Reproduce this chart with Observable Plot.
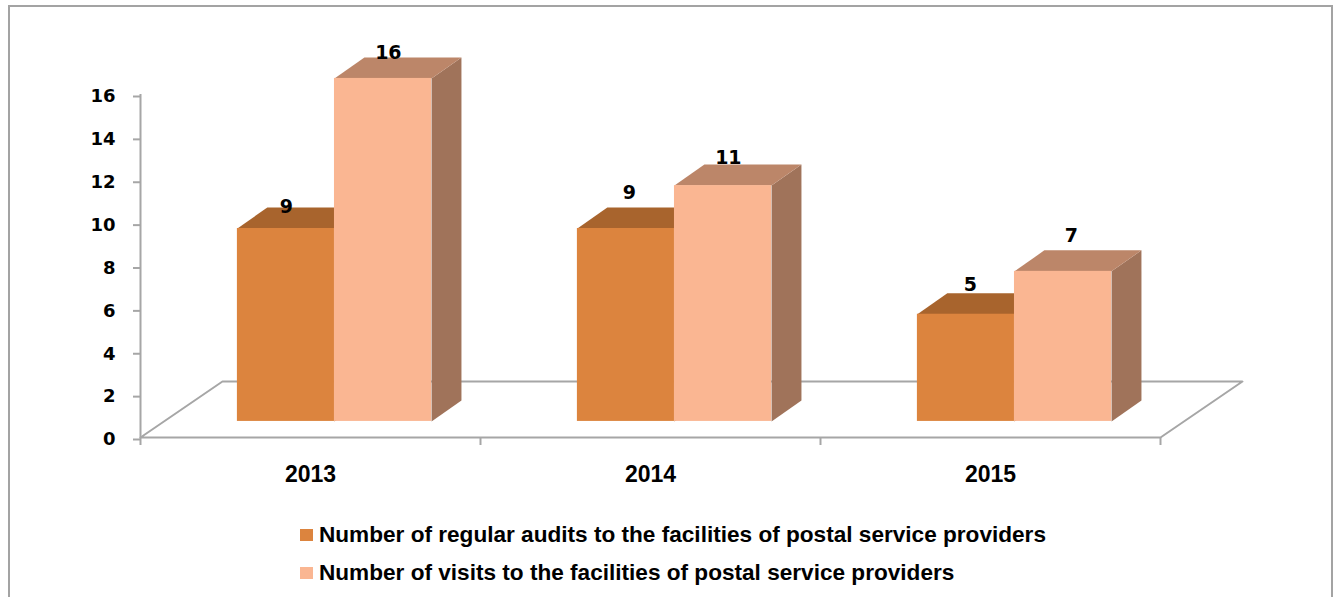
<!DOCTYPE html>
<html>
<head>
<meta charset="utf-8">
<script src="https://cdn.jsdelivr.net/npm/d3@7"></script>
<script src="https://cdn.jsdelivr.net/npm/@observablehq/plot@0.6"></script>
<style>
html, body { margin: 0; padding: 0; background: #fff; overflow: hidden; }
#frame { position: absolute; left: 8px; top: 5px; width: 1325px; height: 592px; box-sizing: border-box;
  border: 2px solid #a3a3a3; border-bottom: none; pointer-events: none; }
#chart svg { display: block; }
#legend { font: bold 22.6px "Liberation Sans", Arial, sans-serif; color: #000; padding-left: 300px; margin-top: 1px; }
#legend div { height: 38px; line-height: 38px; white-space: nowrap; display: flex; align-items: center; }
#legend i { display: inline-block; width: 13px; height: 12px; margin-right: 6px; }
</style>
</head>
<body>
<div id="chart"></div>
<div id="legend"></div>
<div id="frame"></div>
<script>
// Data
const years = ["2013", "2014", "2015"];
const audits = [9, 9, 5];
const visits = [16, 11, 7];
const seriesNames = [
  "Number of regular audits to the facilities of postal service providers",
  "Number of visits to the facilities of postal service providers"
];
const yTicks = [0, 2, 4, 6, 8, 10, 12, 14, 16];

// Colours per series: front, top, side
const frontColors = ["#dc843e", "#fab692"];
const topColors = ["#a8642d", "#bc8669"];
const sideColors = ["#8f5a2c", "#a0735a"];
const gridColor = "#a6a6a6";

// 3-D geometry in data units
const barStart = 0.285, barWidth = 0.2855;
const depthX = 0.088, depthY = 0.98;   // extrusion of a bar
const lift = 0.75;                     // bars stand this far up the floor
const floorDepthX = 0.241, floorDepthY = 2.61;

// Value-label placement [series][year] (x in category units, y above value)
const labelX = [[0.429, 1.438, 2.441], [0.729, 1.729, 2.738]];
const labelUp = [[1.77, 2.43, 2.14], [1.96, 2.06, 2.42]];

const bars = [];
[audits, visits].forEach((vals, s) => vals.forEach((v, i) => {
  const x1 = i + barStart + s * barWidth, x2 = x1 + barWidth;
  bars.push({s, i, v, x1, x2, y1: lift, y2: v + lift});
}));

// Face polygons, derived from each bar
const faces = [];
bars.forEach(b => {
  const side = [[b.x2, b.y1], [b.x2 + depthX, b.y1 + depthY], [b.x2 + depthX, b.y2 + depthY], [b.x2, b.y2]];
  const top = [[b.x1, b.y2], [b.x1 + depthX, b.y2 + depthY], [b.x2 + depthX, b.y2 + depthY], [b.x2, b.y2]];
  side.forEach(([x, y]) => faces.push({x, y, id: `side-${b.s}-${b.i}`, fill: sideColors[b.s], s: b.s}));
  top.forEach(([x, y]) => faces.push({x, y, id: `top-${b.s}-${b.i}`, fill: topColors[b.s], s: b.s}));
});

const floor = [[0, 0], [3, 0], [3 + floorDepthX, floorDepthY], [floorDepthX, floorDepthY], [0, 0]];

const valueLabels = bars.map(b => ({
  x: labelX[b.s][b.i], y: b.v + labelUp[b.s][b.i], text: String(b.v)
}));

const chart = Plot.plot({
  width: 1337,
  height: 515,
  marginLeft: 140,
  marginRight: 177,
  marginTop: 94,
  marginBottom: 78,
  x: {domain: [0, 3]},
  y: {domain: [0, 16]},
  style: {background: "transparent", overflow: "visible"},
  marks: [
    Plot.line(floor, {x: d => d[0], y: d => d[1], stroke: gridColor, strokeWidth: 2}),
    Plot.ruleX([0], {y1: 0, y2: 16, stroke: gridColor, strokeWidth: 2}),
    Plot.axisY({
      ticks: yTicks, tickSize: 7, tickPadding: 18, stroke: gridColor, strokeWidth: 2,
      label: null, color: "#000",
      fontFamily: "DejaVu Sans", fontWeight: "bold", fontSize: 18, dy: 2,
      textStroke: "none"
    }),
    Plot.axisX({
      ticks: [0, 1, 2, 3], tickSize: 8, tickFormat: () => "", stroke: gridColor, strokeWidth: 2, label: null
    }),
    Plot.text(years, {
      x: (d, i) => i + 0.5, y: 0, text: d => d, dy: 37,
      fontFamily: "Liberation Sans", fontWeight: "bold", fontSize: 23, fill: "#000"
    }),
    ...[0, 1].flatMap(s => [
      Plot.line(faces.filter(f => f.s === s), {
        x: "x", y: "y", z: "id", fill: "fill", stroke: null
      }),
      Plot.rect(bars.filter(b => b.s === s), {
        x1: "x1", x2: "x2", y1: "y1", y2: "y2", fill: frontColors[s], inset: 0
      })
    ]),
    Plot.text(valueLabels, {
      x: "x", y: "y", text: "text",
      fontFamily: "DejaVu Sans", fontWeight: "bold", fontSize: 19, fill: "#000"
    })
  ]
});
document.getElementById("chart").appendChild(chart);

const legend = document.getElementById("legend");
seriesNames.forEach((name, s) => {
  const row = document.createElement("div");
  const swatch = document.createElement("i");
  swatch.style.background = frontColors[s];
  row.appendChild(swatch);
  row.appendChild(document.createTextNode(name));
  legend.appendChild(row);
});
</script>
</body>
</html>
